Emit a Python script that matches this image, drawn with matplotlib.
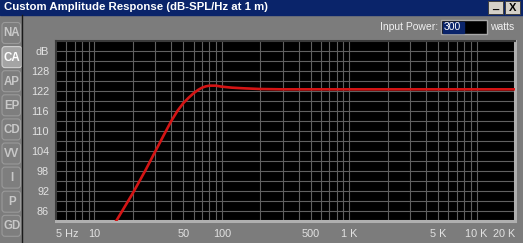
"""Custom Amplitude Response screen (WinISD style) redrawn with matplotlib."""
import matplotlib

matplotlib.use("Agg")
import matplotlib.pyplot as plt
from matplotlib.patches import Rectangle, FancyBboxPatch

plt.rcParams["font.family"] = ["Liberation Sans", "DejaVu Sans"]

# response curve
freqs = [14.5, 15, 20, 25, 30, 35, 40, 45, 50, 55, 60, 65, 70, 75, 80, 90,
         100, 120, 150, 200, 300, 500, 1000, 5000, 20000]
spl = [82.5, 83.3, 91.3, 98.0, 103.8, 108.7, 112.9, 116.1, 118.4, 120.0, 121.3,
       122.3, 123.0, 123.4, 123.6, 123.6, 123.3, 123.0, 122.8, 122.6, 122.5,
       122.5, 122.5, 122.5, 122.5]

x_ticks = [5, 10, 50, 100, 500, 1000, 5000, 10000, 20000]
x_labels = ["5 Hz", "10", "50", "100", "500", "1 K", "5 K", "10 K", "20 K"]
y_ticks = [86, 92, 98, 104, 110, 116, 122, 128, 134]
y_labels = ["86", "92", "98", "104", "110", "116", "122", "128", "dB"]
tabs = ["NA", "CA", "AP", "EP", "CD", "VV", "I", "P", "GD"]
selected_tab = "CA"
input_power = "300"

W, H = 523, 243
fig = plt.figure(figsize=(W / 100, H / 100), dpi=100)
fig.patch.set_facecolor("#7c7c7c")

# background axes in pixel coordinates (y down)
bg = fig.add_axes([0, 0, 1, 1])
bg.set_xlim(0, W)
bg.set_ylim(H, 0)
bg.axis("off")

# title bar
bg.add_patch(Rectangle((0, 0), W, 15, color="#0a246a"))
bg.text(4, 7.5, "Custom Amplitude Response (dB-SPL/Hz at 1 m)", color="white",
        fontsize=8.2, fontweight="bold", va="center", ha="left")
for bx, sym in [(488, "_"), (505, "X")]:
    bg.add_patch(Rectangle((bx, 1), 15, 13, facecolor="#d4d0c8",
                           edgecolor="#404040", lw=0.7))
    bg.text(bx + 7.5, 8 if sym == "X" else 6, sym, color="black", fontsize=8,
            fontweight="bold", ha="center", va="center")

# tab strip
bg.plot([22, 22], [15, H], color="#1a1a1a", lw=1)
for i, name in enumerate(tabs):
    yc = 33 + i * 24.1
    sel = name == selected_tab
    bg.add_patch(FancyBboxPatch((2, yc - 10.5), 20 if sel else 18.5, 21,
                                boxstyle="round,pad=0,rounding_size=3",
                                facecolor="#a4a4a4" if sel else "#7e7e7e",
                                edgecolor="#d0d0d0" if sel else "#9a9a9a", lw=0.8))
    bg.text(12, yc + 0.5, name, color="white" if sel else "#c8c8c8",
            fontsize=8.3, fontweight="bold", ha="center", va="center")

# input power field
bg.text(438, 27.5, "Input Power:", color="#f0f0f0", fontsize=7.5, ha="right", va="center")
bg.add_patch(Rectangle((441, 20.5), 46, 14, facecolor="black",
                       edgecolor="#a8a8a8", lw=1))
bg.add_patch(Rectangle((442.5, 22), 21, 11, color="#0a246a"))
bg.text(444, 27.5, input_power, color="white", fontsize=7.5, ha="left", va="center")
bg.text(490, 27.5, "watts", color="#f0f0f0", fontsize=7.5, ha="left", va="center")

# plot area
ax = fig.add_axes([56 / W, (H - 221) / H, 459 / W, 180 / H])
ax.set_facecolor("black")
ax.set_xscale("log")
ax.set_xlim(5, 20000)
ax.set_ylim(83, 137)

for decade in [1, 10, 100, 1000, 10000]:
    for m in range(1, 10):
        f = m * decade
        if 5 < f < 20000:
            ax.axvline(f, color="#606060", lw=0.8, zorder=1)
for db in range(86, 137, 3):
    ax.axhline(db, color="#606060", lw=0.8, zorder=1)

ax.plot(freqs, spl, color="#d41414", lw=1.9, zorder=3, solid_capstyle="butt")

ax.set_xticks(x_ticks)
ax.set_xticklabels(x_labels)
ax.xaxis.set_minor_locator(matplotlib.ticker.NullLocator())
ax.set_yticks(y_ticks)
ax.set_yticklabels(y_labels)
ax.tick_params(length=0, colors="#e2e2e2", labelsize=7.8)
ax.tick_params(axis="x", pad=6)
ax.tick_params(axis="y", pad=5)
xl = ax.get_xticklabels()
xl[0].set_ha("left")
xl[-1].set_ha("right")
ax.grid(False)

for side in ["left", "top"]:
    ax.spines[side].set_color("#3a3a3a")
    ax.spines[side].set_linewidth(1.5)
for side in ["right", "bottom"]:
    ax.spines[side].set_color("#b0b0b0")
    ax.spines[side].set_linewidth(2.2)

fig.savefig("out.png", dpi=100, facecolor=fig.get_facecolor())
